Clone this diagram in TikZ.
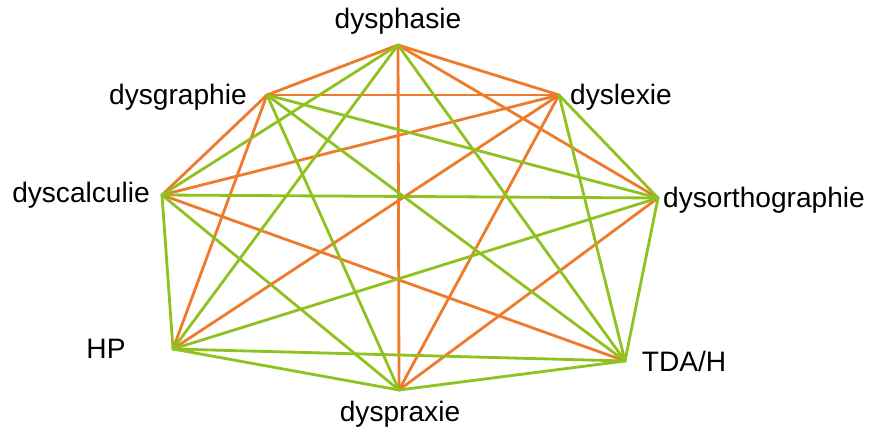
\documentclass[tikz,border=0pt]{standalone}
\usepackage{fontspec}
\setmainfont{Liberation Sans}
\definecolor{linkorange}{HTML}{EE7B2C}
\definecolor{linkgreen}{HTML}{8FC21E}

\begin{document}
\begin{tikzpicture}[x=0.02cm,y=-0.02cm,
        lbl/.style={inner sep=0pt,font=\fontsize{16}{18}\selectfont},
        orangelink/.style={draw=linkorange,line width=1.6pt,line cap=round},
        greenlink/.style={draw=linkgreen,line width=1.6pt,line cap=round}]
    \useasboundingbox (0,0) rectangle (870,432);
    % sommets
    \coordinate (phas) at (398,45);
    \coordinate (lex) at (559,95);
    \coordinate (orth) at (658,198);
    \coordinate (tdah) at (625,361);
    \coordinate (prax) at (399,390);
    \coordinate (hp) at (173,349);
    \coordinate (calc) at (162,195);
    \coordinate (graph) at (267,95);
    % etiquettes
    \node[lbl] (phaslbl) at (398,21) {dysphasie};
    \node[lbl] (lexlbl) at (621,97) {dyslexie};
    \node[lbl] (orthlbl) at (764,200) {dysorthographie};
    \node[lbl] (tdahlbl) at (684,361) {TDA/H};
    \node[lbl] (praxlbl) at (400,414) {dyspraxie};
    \node[lbl] (hplbl) at (106,349) {HP};
    \node[lbl] (calclbl) at (81,195) {dyscalculie};
    \node[lbl] (graphlbl) at (178,97) {dysgraphie};
    % liens
    \foreach \a/\b in {phas/graph,phas/lex,phas/orth,phas/prax,graph/lex,graph/calc,
            graph/hp,lex/calc,lex/hp,lex/prax,calc/tdah,orth/prax}
        \draw[orangelink] (\a) -- (\b);
    \foreach \a/\b in {phas/calc,phas/hp,phas/tdah,graph/orth,graph/tdah,graph/prax,
            lex/orth,lex/tdah,calc/orth,calc/hp,calc/prax,orth/hp,orth/tdah,
            hp/tdah,hp/prax,prax/tdah}
        \draw[greenlink] (\a) -- (\b);
\end{tikzpicture}
\end{document}
